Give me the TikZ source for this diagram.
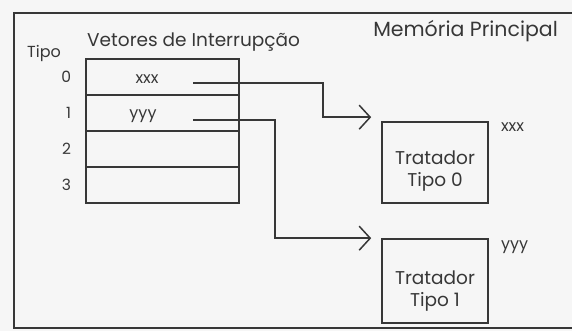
\documentclass[tikz,border=0pt]{standalone}
\usepackage{fontspec}
\setmainfont{Poppins}
\usetikzlibrary{arrows.meta}
\definecolor{ink}{RGB}{55,55,55}
\definecolor{paper}{RGB}{246,246,246}
\tikzset{
  cell/.style={draw=ink, line width=1.5pt, minimum width=153pt, minimum height=36pt, inner sep=0pt},
  handler/.style={draw=ink, line width=1.6pt, minimum width=106pt, inner sep=0pt},
  title/.style={text=ink, font=\fontsize{20.5}{23}\selectfont, inner sep=0pt},
  small/.style={text=ink, font=\fontsize{16}{18}\selectfont, inner sep=0pt},
  link/.style={draw=ink, line width=1.5pt, -{Straight Barb[length=11pt,width=24pt,line width=1.5pt]}}
}
\begin{document}
\begin{tikzpicture}[x=1pt,y=-1pt]
\useasboundingbox[fill=paper] (0,0) rectangle (572,331);
\clip (0,0) rectangle (572,331);

\draw[ink, line width=1.7pt] (14,13) rectangle (590,328);

\node[title, anchor=east] (mem) at (558,31) {Memória Principal};

\node[title, anchor=west, font=\fontsize{18.5}{22}\selectfont] (vet) at (87,42) {Vetores de Interrupção};

\node[title, anchor=west, font=\fontsize{16}{18}\selectfont] (tipo) at (27,53) {Tipo};

\node[cell] (r0) at (162.5,77) {};
\node[cell] (r1) at (162.5,113) {};
\node[cell] (r2) at (162.5,149) {};
\node[cell] (r3) at (162.5,185) {};

\node[small] (v0) at (147,79) {xxx};
\node[small] (v1) at (143,116) {yyy};

\foreach \i in {0,...,3}
  \node[title, font=\fontsize{15.5}{17}\selectfont, anchor=east] (n\i) at ([xshift=-14pt]r\i.west) {\i};

\node[handler, minimum height=81pt] (h0) at (435,162.5) {};
\node[handler, minimum height=84pt] (h1) at (435,281) {};

\node[title, align=center, font=\fontsize{18.5}{22}\selectfont] (t0) at ([yshift=-9pt]h0.center) {Tratador\\Tipo 0};
\node[title, align=center, font=\fontsize{18.5}{22}\selectfont] (t1) at ([yshift=-10pt]h1.center) {Tratador\\Tipo 1};

\node[small, anchor=west] (a0) at ([xshift=12pt,yshift=-6pt]h0.north east) {xxx};
\node[small, anchor=west] (a1) at ([xshift=12pt,yshift=-9pt]h1.north east) {yyy};

\coordinate (p0) at (193,83);
\coordinate (p1) at (193,120);

\draw[link] (p0) -- (323,83) |- ([xshift=-10pt,yshift=4pt]h0.north west);
\draw[link] (p1) -- (275,120) |- ([xshift=-10pt]h1.north west);

\end{tikzpicture}
\end{document}
